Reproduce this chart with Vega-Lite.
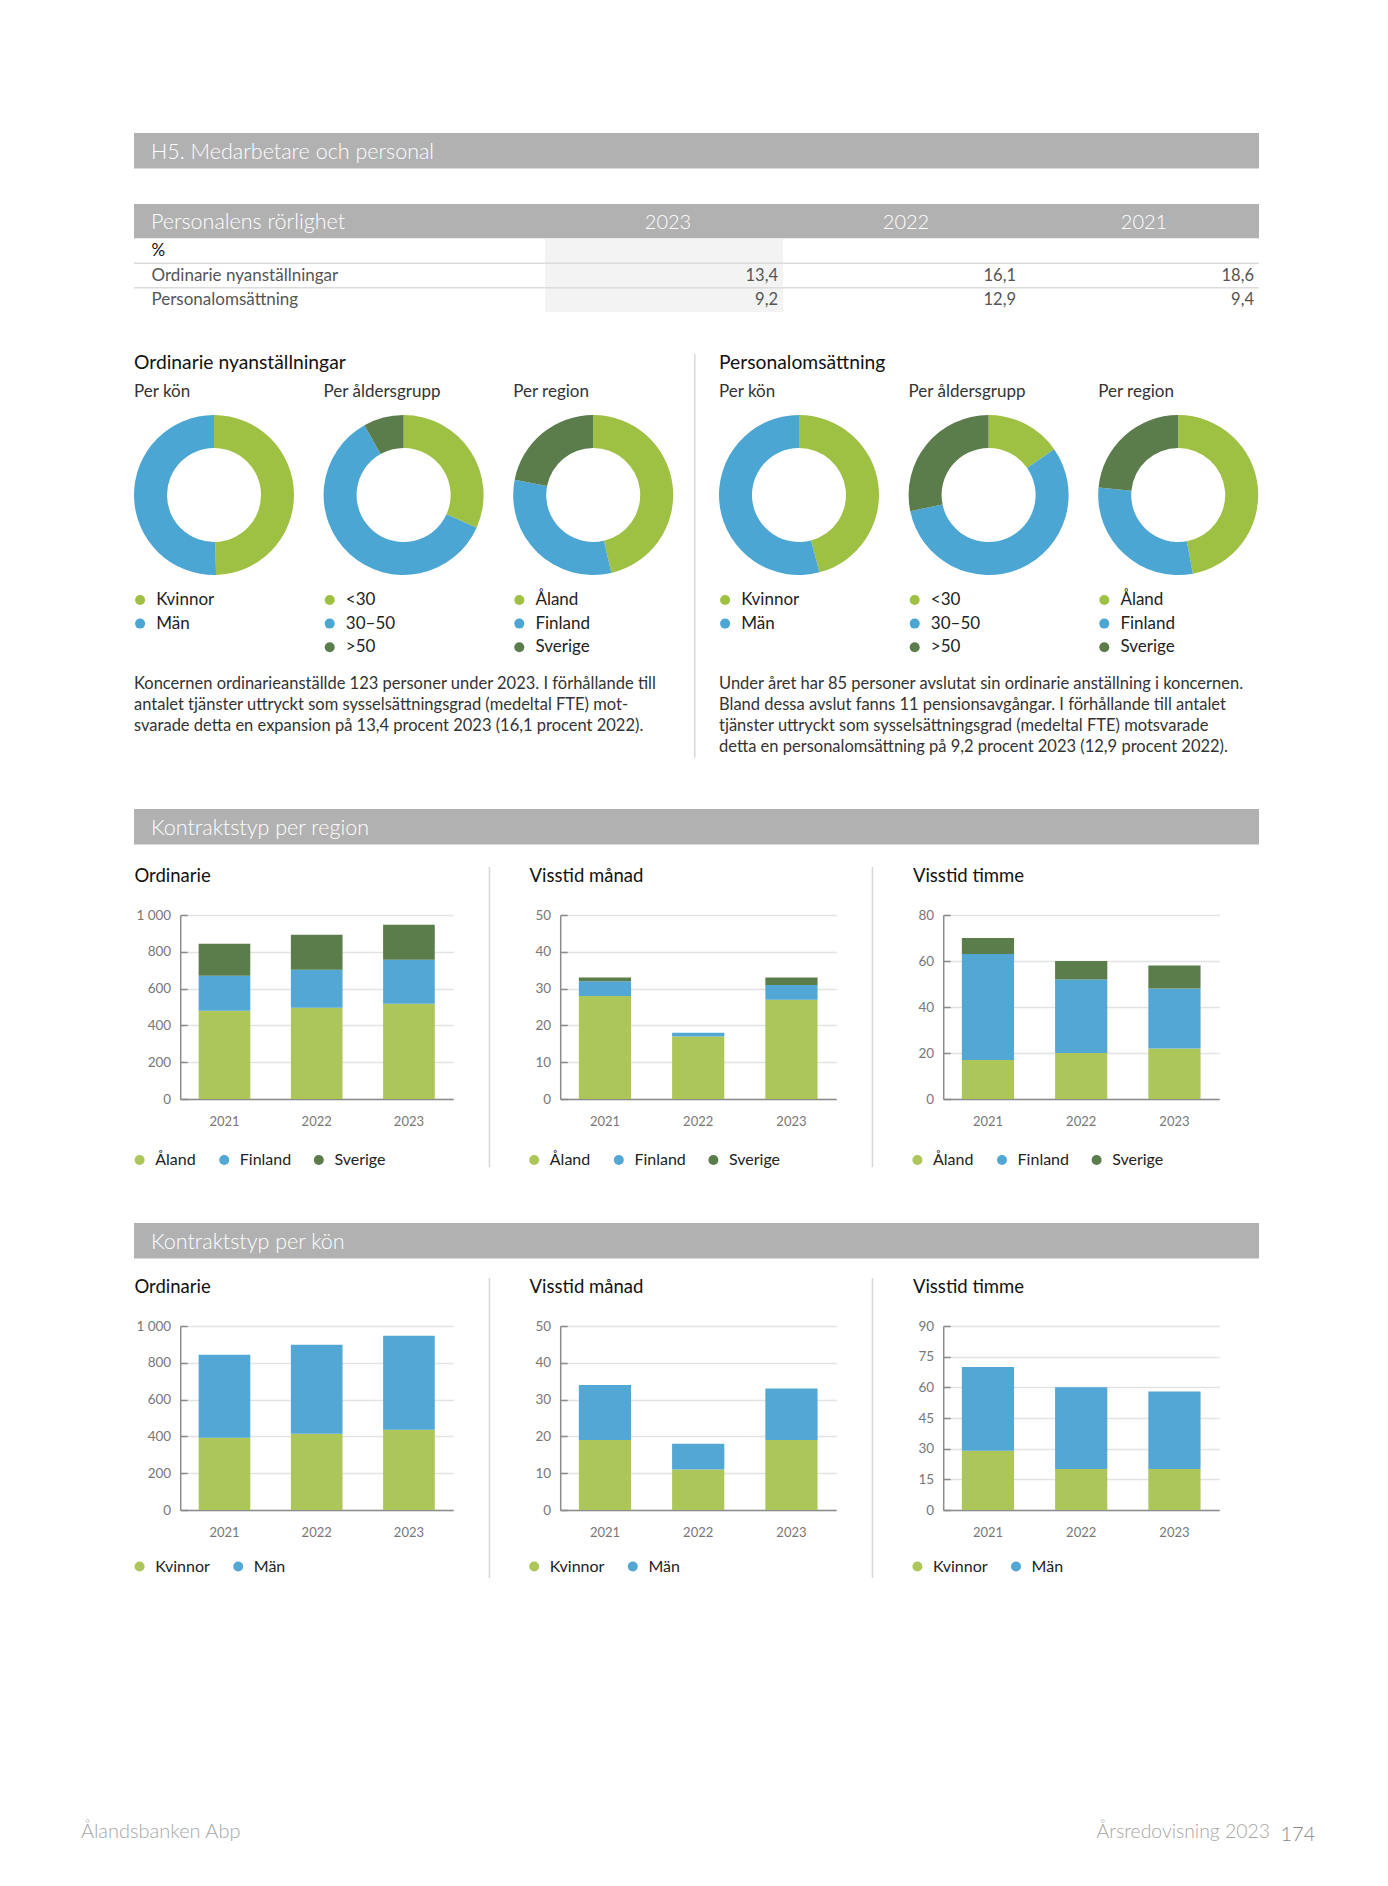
{
  "$schema": "https://vega.github.io/schema/vega-lite/v6.json",
  "background": "white",
  "padding": {"left": 80, "top": 133, "right": 20, "bottom": 10},
  "title": {"text": "Ålandsbanken Abp", "orient": "bottom", "anchor": "start", "frame": "bounds", "dx": -50.7, "offset": -23, "fontSize": 20, "color": "#a6a6a6", "fontWeight": 300},
  "spacing": 0,
  "resolve": {"scale": {"color": "independent"}},
  "vconcat": [
    {
      "width": 1125, "height": 35.5,
      "view": {"fill": "#b1b1b1", "stroke": null},
      "data": {"values": []},
      "mark": "text",
      "encoding": {},
      "title": {"text": "H5. Medarbetare och personal", "orient": "bottom", "offset": -26.5, "dx": 17, "fontSize": 21.5, "color": "white", "fontWeight": 300}
    },
    {"width": 1, "height": 35, "data": {"values": []}, "mark": "text", "encoding": {}},
    {
      "width": 1125, "height": 34.2,
      "view": {"fill": "#b1b1b1", "stroke": null},
      "data": {"values": [{"year": "2023"}, {"year": "2022"}, {"year": "2021"}]},
      "mark": {"type": "text", "color": "white", "fontSize": 20, "fontWeight": 300, "baseline": "middle", "dx": 4, "dy": 2},
      "encoding": {
        "x": {"field": "year", "type": "nominal", "bandPosition": 0.5, "scale": {"type": "band", "domain": ["2023", "2022", "2021"], "paddingInner": 0, "paddingOuter": 0.8634, "align": 1}, "axis": null},
        "text": {"field": "year"}
      },
      "title": {"text": "Personalens rörlighet", "orient": "bottom", "offset": -26.2, "dx": 17, "fontSize": 21.5, "color": "white", "fontWeight": 300}
    },
    {
      "width": 1125, "height": 73,
      "data": {"values": [
        {"row": "Ordinarie nyanställningar", "year": "2023", "value": 13.4},
        {"row": "Ordinarie nyanställningar", "year": "2022", "value": 16.1},
        {"row": "Ordinarie nyanställningar", "year": "2021", "value": 18.6},
        {"row": "Personalomsättning", "year": "2023", "value": 9.2},
        {"row": "Personalomsättning", "year": "2022", "value": 12.9},
        {"row": "Personalomsättning", "year": "2021", "value": 9.4}
      ]},
      "layer": [
        {
          "transform": [{"filter": "datum.year === '2023' && datum.row === 'Personalomsättning'"}],
          "mark": {"type": "rect", "color": "#f3f3f3"},
          "encoding": {
            "x": {"field": "year", "type": "nominal", "scale": {"type": "band", "domain": ["2023", "2022", "2021"], "paddingInner": 0, "paddingOuter": 0.8634, "align": 1}, "axis": null}
          }
        },
        {
          "transform": [{"filter": "datum.year === '2023'"}],
          "mark": {"type": "rule", "color": "#dcdcdc", "strokeWidth": 1.5},
          "encoding": {
            "y": {"field": "row", "type": "nominal", "bandPosition": 0, "scale": {"type": "band", "domain": ["%", "Ordinarie nyanställningar", "Personalomsättning"], "paddingInner": 0, "paddingOuter": 0}}
          }
        },
        {
          "mark": {"type": "text", "align": "right", "baseline": "middle", "dx": -5, "fontSize": 16.5, "color": "#555555"},
          "encoding": {
            "x": {"field": "year", "type": "nominal", "bandPosition": 1, "scale": {"type": "band", "domain": ["2023", "2022", "2021"], "paddingInner": 0, "paddingOuter": 0.8634, "align": 1}, "axis": null},
            "y": {"field": "row", "type": "nominal", "scale": {"type": "band", "domain": ["%", "Ordinarie nyanställningar", "Personalomsättning"], "paddingInner": 0, "paddingOuter": 0},
              "axis": {"title": null, "domain": false, "ticks": false, "grid": false, "labelAlign": "left", "labelPadding": -17, "labelFontSize": 17, "labelLimit": 0, "minExtent": 0,
                "labelColor": {"condition": {"test": "datum.value === '%'", "value": "#111111"}, "value": "#555555"}}},
            "text": {"field": "value", "type": "quantitative", "format": ".1f"}
          }
        }
      ]
    },
    {"width": 1, "height": 41.2, "data": {"values": []}, "mark": "text", "encoding": {}},
    {
      "spacing": 20,
      "resolve": {"scale": {"color": "independent"}},
      "hconcat": [
        {
          "spacing": 0,
          "resolve": {"scale": {"color": "independent"}},
          "vconcat": [
            {"width": 1, "height": 29, "data": {"values": []}, "mark": "text", "encoding": {},
              "title": {"text": "Ordinarie nyanställningar", "orient": "bottom", "offset": -29, "fontSize": 19.3, "color": "#111111"}},
            {
              "title": {"text": ["Koncernen ordinarieanställde 123 personer under 2023. I förhållande till", "antalet tjänster uttryckt som sysselsättningsgrad (medeltal FTE) mot-", "svarade detta en expansion på 13,4 procent 2023 (16,1  procent 2022)."], "orient": "bottom", "offset": 20.8, "fontSize": 16.5, "lineHeight": 20.8, "color": "#333333"},
              "spacing": 26.6,
              "resolve": {"scale": {"color": "independent"}},
              "hconcat": [
                {
                  "width": 160, "height": 160,
                  "title": {"text": "Per kön", "offset": 13.7, "fontSize": 17, "color": "#333333"},
                  "data": {"values": [{"group": "Kvinnor", "value": 61, "rank": 1}, {"group": "Män", "value": 62, "rank": 2}]},
                  "mark": {"type": "arc", "innerRadius": 47, "outerRadius": 80},
                  "encoding": {
                    "theta": {"field": "value", "type": "quantitative", "stack": true},
                    "order": {"field": "rank"},
                    "color": {"field": "group", "type": "nominal", "title": null, "scale": {"domain": ["Kvinnor", "Män"], "range": ["#9fc143", "#4ba6d3"]}, "legend": {"orient": "none", "direction": "vertical", "legendX": -2.4, "legendY": 176.5, "labelFontSize": 17}}
                  }
                },
                {
                  "width": 160, "height": 160,
                  "title": {"text": "Per åldersgrupp", "offset": 13.7, "fontSize": 17, "color": "#333333"},
                  "data": {"values": [{"group": "<30", "value": 39, "rank": 1}, {"group": "30–50", "value": 74, "rank": 2}, {"group": ">50", "value": 10, "rank": 3}]},
                  "mark": {"type": "arc", "innerRadius": 47, "outerRadius": 80},
                  "encoding": {
                    "theta": {"field": "value", "type": "quantitative", "stack": true},
                    "order": {"field": "rank"},
                    "color": {"field": "group", "type": "nominal", "title": null, "scale": {"domain": ["<30", "30–50", ">50"], "range": ["#9fc143", "#4ba6d3", "#5b7c4b"]}, "legend": {"orient": "none", "direction": "vertical", "legendX": -2.4, "legendY": 176.5, "labelFontSize": 17}}
                  }
                },
                {
                  "width": 160, "height": 160,
                  "title": {"text": "Per region", "offset": 13.7, "fontSize": 17, "color": "#333333"},
                  "data": {"values": [{"group": "Åland", "value": 57, "rank": 1}, {"group": "Finland", "value": 39, "rank": 2}, {"group": "Sverige", "value": 27, "rank": 3}]},
                  "mark": {"type": "arc", "innerRadius": 47, "outerRadius": 80},
                  "encoding": {
                    "theta": {"field": "value", "type": "quantitative", "stack": true},
                    "order": {"field": "rank"},
                    "color": {"field": "group", "type": "nominal", "title": null, "scale": {"domain": ["Åland", "Finland", "Sverige"], "range": ["#9fc143", "#4ba6d3", "#5b7c4b"]}, "legend": {"orient": "none", "direction": "vertical", "legendX": -2.4, "legendY": 176.5, "labelFontSize": 17}}
                  }
                }
              ]
            }
          ]
        },
        {"width": 1.5, "height": 403.5, "view": {"fill": "#d7d7d7", "stroke": null}, "data": {"values": []}, "mark": "text", "encoding": {}},
        {
          "spacing": 0,
          "resolve": {"scale": {"color": "independent"}},
          "vconcat": [
            {"width": 1, "height": 29, "data": {"values": []}, "mark": "text", "encoding": {},
              "title": {"text": "Personalomsättning", "orient": "bottom", "offset": -29, "fontSize": 19.3, "color": "#111111"}},
            {
              "title": {"text": ["Under året har 85 personer avslutat sin ordinarie anställning i koncernen.", "Bland dessa avslut fanns 11 pensionsavgångar. I förhållande till antalet", "tjänster uttryckt som sysselsättningsgrad (medeltal FTE) motsvarade", "detta en personalomsättning på 9,2 procent 2023  (12,9 procent 2022)."], "orient": "bottom", "offset": 20.8, "fontSize": 16.5, "lineHeight": 20.8, "color": "#333333"},
              "spacing": 26.6,
              "resolve": {"scale": {"color": "independent"}},
              "hconcat": [
                {
                  "width": 160, "height": 160,
                  "title": {"text": "Per kön", "offset": 13.7, "fontSize": 17, "color": "#333333"},
                  "data": {"values": [{"group": "Kvinnor", "value": 39, "rank": 1}, {"group": "Män", "value": 46, "rank": 2}]},
                  "mark": {"type": "arc", "innerRadius": 47, "outerRadius": 80},
                  "encoding": {
                    "theta": {"field": "value", "type": "quantitative", "stack": true},
                    "order": {"field": "rank"},
                    "color": {"field": "group", "type": "nominal", "title": null, "scale": {"domain": ["Kvinnor", "Män"], "range": ["#9fc143", "#4ba6d3"]}, "legend": {"orient": "none", "direction": "vertical", "legendX": -2.4, "legendY": 176.5, "labelFontSize": 17}}
                  }
                },
                {
                  "width": 160, "height": 160,
                  "title": {"text": "Per åldersgrupp", "offset": 13.7, "fontSize": 17, "color": "#333333"},
                  "data": {"values": [{"group": "<30", "value": 13, "rank": 1}, {"group": "30–50", "value": 48, "rank": 2}, {"group": ">50", "value": 24, "rank": 3}]},
                  "mark": {"type": "arc", "innerRadius": 47, "outerRadius": 80},
                  "encoding": {
                    "theta": {"field": "value", "type": "quantitative", "stack": true},
                    "order": {"field": "rank"},
                    "color": {"field": "group", "type": "nominal", "title": null, "scale": {"domain": ["<30", "30–50", ">50"], "range": ["#9fc143", "#4ba6d3", "#5b7c4b"]}, "legend": {"orient": "none", "direction": "vertical", "legendX": -2.4, "legendY": 176.5, "labelFontSize": 17}}
                  }
                },
                {
                  "width": 160, "height": 160,
                  "title": {"text": "Per region", "offset": 13.7, "fontSize": 17, "color": "#333333"},
                  "data": {"values": [{"group": "Åland", "value": 40, "rank": 1}, {"group": "Finland", "value": 25, "rank": 2}, {"group": "Sverige", "value": 20, "rank": 3}]},
                  "mark": {"type": "arc", "innerRadius": 47, "outerRadius": 80},
                  "encoding": {
                    "theta": {"field": "value", "type": "quantitative", "stack": true},
                    "order": {"field": "rank"},
                    "color": {"field": "group", "type": "nominal", "title": null, "scale": {"domain": ["Åland", "Finland", "Sverige"], "range": ["#9fc143", "#4ba6d3", "#5b7c4b"]}, "legend": {"orient": "none", "direction": "vertical", "legendX": -2.4, "legendY": 176.5, "labelFontSize": 17}}
                  }
                }
              ]
            }
          ]
        }
      ]
    },
    {"width": 1, "height": 50.5, "data": {"values": []}, "mark": "text", "encoding": {}},
    {
      "width": 1125, "height": 35.5,
      "view": {"fill": "#b1b1b1", "stroke": null},
      "data": {"values": []},
      "mark": "text",
      "encoding": {},
      "title": {"text": "Kontraktstyp per region", "orient": "bottom", "offset": -26.5, "dx": 17, "fontSize": 21.5, "color": "white", "fontWeight": 300}
    },
    {"width": 1, "height": 21.7, "data": {"values": []}, "mark": "text", "encoding": {}},
    {
      "spacing": -3.8,
      "resolve": {"scale": {"color": "independent"}},
      "hconcat": [
        {"width": 1, "height": 1, "data": {"values": []}, "mark": "text", "encoding": {}},
        {
          "spacing": 35.5,
          "resolve": {"scale": {"color": "independent"}},
          "hconcat": [
            {
              "spacing": 0,
              "resolve": {"scale": {"color": "independent"}},
              "vconcat": [
                {"width": 273, "height": 40.6, "data": {"values": []}, "mark": "text", "encoding": {},
                  "title": {"text": "Ordinarie", "orient": "bottom", "offset": -40.6, "dx": -45.8, "fontSize": 18.5, "color": "#111111"}},
                {
                  "width": 273, "height": 184,
                  "data": {"values": [
                    {"year": "2021", "group": "Åland", "value": 480, "rank": 1}, {"year": "2021", "group": "Finland", "value": 190, "rank": 2}, {"year": "2021", "group": "Sverige", "value": 174, "rank": 3},
                    {"year": "2022", "group": "Åland", "value": 496, "rank": 1}, {"year": "2022", "group": "Finland", "value": 207, "rank": 2}, {"year": "2022", "group": "Sverige", "value": 190, "rank": 3},
                    {"year": "2023", "group": "Åland", "value": 518, "rank": 1}, {"year": "2023", "group": "Finland", "value": 239, "rank": 2}, {"year": "2023", "group": "Sverige", "value": 190, "rank": 3}
                  ]},
                  "mark": {"type": "bar"},
                  "encoding": {
                    "x": {"field": "year", "type": "ordinal", "scale": {"paddingInner": 0.44, "paddingOuter": 0.2}},
                    "y": {"field": "value", "type": "quantitative", "scale": {"domain": [0, 1000], "nice": false}, "axis": {"values": [0, 200, 400, 600, 800, 1000], "format": ",d"}},
                    "color": {"field": "group", "type": "nominal", "title": null, "scale": {"domain": ["Åland", "Finland", "Sverige"], "range": ["#adc65a", "#52a7d4", "#5b7c4b"]}, "legend": {"orient": "none", "direction": "horizontal", "legendX": -48.6, "legendY": 237}},
                    "order": {"field": "rank"}
                  }
                }
              ]
            },
            {"width": 1.5, "height": 300.3, "view": {"fill": "#d7d7d7", "stroke": null}, "data": {"values": []}, "mark": "text", "encoding": {}},
            {
              "spacing": 0,
              "resolve": {"scale": {"color": "independent"}},
              "vconcat": [
                {"width": 276, "height": 40.6, "data": {"values": []}, "mark": "text", "encoding": {},
                  "title": {"text": "Visstid månad", "orient": "bottom", "offset": -40.6, "dx": -30.6, "fontSize": 18.5, "color": "#111111"}},
                {
                  "width": 276, "height": 184,
                  "data": {"values": [
                    {"year": "2021", "group": "Åland", "value": 28, "rank": 1}, {"year": "2021", "group": "Finland", "value": 4, "rank": 2}, {"year": "2021", "group": "Sverige", "value": 1, "rank": 3},
                    {"year": "2022", "group": "Åland", "value": 17, "rank": 1}, {"year": "2022", "group": "Finland", "value": 1, "rank": 2}, {"year": "2022", "group": "Sverige", "value": 0, "rank": 3},
                    {"year": "2023", "group": "Åland", "value": 27, "rank": 1}, {"year": "2023", "group": "Finland", "value": 4, "rank": 2}, {"year": "2023", "group": "Sverige", "value": 2, "rank": 3}
                  ]},
                  "mark": {"type": "bar"},
                  "encoding": {
                    "x": {"field": "year", "type": "ordinal", "scale": {"paddingInner": 0.44, "paddingOuter": 0.2}},
                    "y": {"field": "value", "type": "quantitative", "scale": {"domain": [0, 50], "nice": false}, "axis": {"values": [0, 10, 20, 30, 40, 50], "format": ",d"}},
                    "color": {"field": "group", "type": "nominal", "title": null, "scale": {"domain": ["Åland", "Finland", "Sverige"], "range": ["#adc65a", "#52a7d4", "#5b7c4b"]}, "legend": {"orient": "none", "direction": "horizontal", "legendX": -34, "legendY": 237}},
                    "order": {"field": "rank"}
                  }
                }
              ]
            },
            {"width": 1.5, "height": 300.3, "view": {"fill": "#d7d7d7", "stroke": null}, "data": {"values": []}, "mark": "text", "encoding": {}},
            {
              "spacing": 0,
              "resolve": {"scale": {"color": "independent"}},
              "vconcat": [
                {"width": 276, "height": 40.6, "data": {"values": []}, "mark": "text", "encoding": {},
                  "title": {"text": "Visstid timme", "orient": "bottom", "offset": -40.6, "dx": -30.3, "fontSize": 18.5, "color": "#111111"}},
                {
                  "width": 276, "height": 184,
                  "data": {"values": [
                    {"year": "2021", "group": "Åland", "value": 17, "rank": 1}, {"year": "2021", "group": "Finland", "value": 46, "rank": 2}, {"year": "2021", "group": "Sverige", "value": 7, "rank": 3},
                    {"year": "2022", "group": "Åland", "value": 20, "rank": 1}, {"year": "2022", "group": "Finland", "value": 32, "rank": 2}, {"year": "2022", "group": "Sverige", "value": 8, "rank": 3},
                    {"year": "2023", "group": "Åland", "value": 22, "rank": 1}, {"year": "2023", "group": "Finland", "value": 26, "rank": 2}, {"year": "2023", "group": "Sverige", "value": 10, "rank": 3}
                  ]},
                  "mark": {"type": "bar"},
                  "encoding": {
                    "x": {"field": "year", "type": "ordinal", "scale": {"paddingInner": 0.44, "paddingOuter": 0.2}},
                    "y": {"field": "value", "type": "quantitative", "scale": {"domain": [0, 80], "nice": false}, "axis": {"values": [0, 20, 40, 60, 80], "format": ",d"}},
                    "color": {"field": "group", "type": "nominal", "title": null, "scale": {"domain": ["Åland", "Finland", "Sverige"], "range": ["#adc65a", "#52a7d4", "#5b7c4b"]}, "legend": {"orient": "none", "direction": "horizontal", "legendX": -33.8, "legendY": 237}},
                    "order": {"field": "rank"}
                  }
                }
              ]
            }
          ]
        }
      ]
    },
    {"width": 1, "height": 54.5, "data": {"values": []}, "mark": "text", "encoding": {}},
    {
      "width": 1125, "height": 35.5,
      "view": {"fill": "#b1b1b1", "stroke": null},
      "data": {"values": []},
      "mark": "text",
      "encoding": {},
      "title": {"text": "Kontraktstyp per kön", "orient": "bottom", "offset": -26.5, "dx": 17, "fontSize": 21.5, "color": "white", "fontWeight": 300}
    },
    {"width": 1, "height": 18.2, "data": {"values": []}, "mark": "text", "encoding": {}},
    {
      "spacing": -3.8,
      "resolve": {"scale": {"color": "independent"}},
      "hconcat": [
        {"width": 1, "height": 1, "data": {"values": []}, "mark": "text", "encoding": {}},
        {
          "spacing": 35.5,
          "resolve": {"scale": {"color": "independent"}},
          "hconcat": [
            {
              "spacing": 0,
              "resolve": {"scale": {"color": "independent"}},
              "vconcat": [
                {"width": 273, "height": 40.6, "data": {"values": []}, "mark": "text", "encoding": {},
                  "title": {"text": "Ordinarie", "orient": "bottom", "offset": -40.6, "dx": -45.8, "fontSize": 18.5, "color": "#111111"}},
                {
                  "width": 273, "height": 184,
                  "data": {"values": [
                    {"year": "2021", "group": "Kvinnor", "value": 392, "rank": 1}, {"year": "2021", "group": "Män", "value": 452, "rank": 2},
                    {"year": "2022", "group": "Kvinnor", "value": 414, "rank": 1}, {"year": "2022", "group": "Män", "value": 484, "rank": 2},
                    {"year": "2023", "group": "Kvinnor", "value": 436, "rank": 1}, {"year": "2023", "group": "Män", "value": 511, "rank": 2}
                  ]},
                  "mark": {"type": "bar"},
                  "encoding": {
                    "x": {"field": "year", "type": "ordinal", "scale": {"paddingInner": 0.44, "paddingOuter": 0.2}},
                    "y": {"field": "value", "type": "quantitative", "scale": {"domain": [0, 1000], "nice": false}, "axis": {"values": [0, 200, 400, 600, 800, 1000], "format": ",d"}},
                    "color": {"field": "group", "type": "nominal", "title": null, "scale": {"domain": ["Kvinnor", "Män"], "range": ["#adc65a", "#52a7d4"]}, "legend": {"orient": "none", "direction": "horizontal", "legendX": -48.6, "legendY": 232.5}},
                    "order": {"field": "rank"}
                  }
                }
              ]
            },
            {"width": 1.5, "height": 300, "view": {"fill": "#d7d7d7", "stroke": null}, "data": {"values": []}, "mark": "text", "encoding": {}},
            {
              "spacing": 0,
              "resolve": {"scale": {"color": "independent"}},
              "vconcat": [
                {"width": 276, "height": 40.6, "data": {"values": []}, "mark": "text", "encoding": {},
                  "title": {"text": "Visstid månad", "orient": "bottom", "offset": -40.6, "dx": -30.6, "fontSize": 18.5, "color": "#111111"}},
                {
                  "width": 276, "height": 184,
                  "data": {"values": [
                    {"year": "2021", "group": "Kvinnor", "value": 19, "rank": 1}, {"year": "2021", "group": "Män", "value": 15, "rank": 2},
                    {"year": "2022", "group": "Kvinnor", "value": 11, "rank": 1}, {"year": "2022", "group": "Män", "value": 7, "rank": 2},
                    {"year": "2023", "group": "Kvinnor", "value": 19, "rank": 1}, {"year": "2023", "group": "Män", "value": 14, "rank": 2}
                  ]},
                  "mark": {"type": "bar"},
                  "encoding": {
                    "x": {"field": "year", "type": "ordinal", "scale": {"paddingInner": 0.44, "paddingOuter": 0.2}},
                    "y": {"field": "value", "type": "quantitative", "scale": {"domain": [0, 50], "nice": false}, "axis": {"values": [0, 10, 20, 30, 40, 50], "format": ",d"}},
                    "color": {"field": "group", "type": "nominal", "title": null, "scale": {"domain": ["Kvinnor", "Män"], "range": ["#adc65a", "#52a7d4"]}, "legend": {"orient": "none", "direction": "horizontal", "legendX": -34, "legendY": 232.5}},
                    "order": {"field": "rank"}
                  }
                }
              ]
            },
            {"width": 1.5, "height": 300, "view": {"fill": "#d7d7d7", "stroke": null}, "data": {"values": []}, "mark": "text", "encoding": {}},
            {
              "spacing": 0,
              "resolve": {"scale": {"color": "independent"}},
              "vconcat": [
                {"width": 276, "height": 40.6, "data": {"values": []}, "mark": "text", "encoding": {},
                  "title": {"text": "Visstid timme", "orient": "bottom", "offset": -40.6, "dx": -30.3, "fontSize": 18.5, "color": "#111111"}},
                {
                  "width": 276, "height": 184,
                  "data": {"values": [
                    {"year": "2021", "group": "Kvinnor", "value": 29, "rank": 1}, {"year": "2021", "group": "Män", "value": 41, "rank": 2},
                    {"year": "2022", "group": "Kvinnor", "value": 20, "rank": 1}, {"year": "2022", "group": "Män", "value": 40, "rank": 2},
                    {"year": "2023", "group": "Kvinnor", "value": 20, "rank": 1}, {"year": "2023", "group": "Män", "value": 38, "rank": 2}
                  ]},
                  "mark": {"type": "bar"},
                  "encoding": {
                    "x": {"field": "year", "type": "ordinal", "scale": {"paddingInner": 0.44, "paddingOuter": 0.2}},
                    "y": {"field": "value", "type": "quantitative", "scale": {"domain": [0, 90], "nice": false}, "axis": {"values": [0, 15, 30, 45, 60, 75, 90], "format": ",d"}},
                    "color": {"field": "group", "type": "nominal", "title": null, "scale": {"domain": ["Kvinnor", "Män"], "range": ["#adc65a", "#52a7d4"]}, "legend": {"orient": "none", "direction": "horizontal", "legendX": -33.8, "legendY": 232.5}},
                    "order": {"field": "rank"}
                  }
                }
              ]
            }
          ]
        }
      ]
    },
    {"width": 1, "height": 238.9, "data": {"values": []}, "mark": "text", "encoding": {}},
    {
      "spacing": 10.5,
      "hconcat": [
        {"width": 1136, "height": 1, "data": {"values": []}, "mark": "text", "encoding": {},
          "title": {"text": "Årsredovisning 2023", "orient": "bottom", "anchor": "end", "offset": 5, "fontSize": 19.4, "color": "#a6a6a6", "fontWeight": 300}},
        {"width": 1, "height": 1, "data": {"values": []}, "mark": "text", "encoding": {},
          "title": {"text": "174", "orient": "bottom", "anchor": "start", "offset": 7, "fontSize": 20, "color": "#8a8a8a", "fontWeight": 300}}
      ]
    }
  ],
  "config": {
    "font": "Lato",
    "view": {"stroke": null},
    "locale": {"number": {"decimal": ",", "thousands": "\u00a0", "grouping": [3], "currency": ["", ""]}},
    "title": {"anchor": "start", "frame": "group", "fontWeight": "normal", "color": "#111111", "font": "Lato"},
    "axisX": {"title": null, "labelAngle": 0, "ticks": false, "labelPadding": 16, "labelFontSize": 13, "labelColor": "#777777", "domainColor": "#8c8c8c", "domainWidth": 1.5, "grid": false},
    "axisY": {"title": null, "grid": true, "gridColor": "#e3e3e3", "gridWidth": 1.5, "domainColor": "#8c8c8c", "domainWidth": 1.5, "ticks": true, "tickSize": -7, "tickColor": "#8c8c8c", "tickWidth": 1.5, "labelPadding": 16.5, "labelFontSize": 13.5, "labelColor": "#777777", "minExtent": 0},
    "legend": {"symbolType": "circle", "symbolSize": 100, "symbolStrokeWidth": 0, "labelFontSize": 16, "labelColor": "#222222", "labelOffset": 7.6, "columnPadding": 19.6, "rowPadding": 5.6, "padding": 0},
    "concat": {"spacing": 0}
  }
}
